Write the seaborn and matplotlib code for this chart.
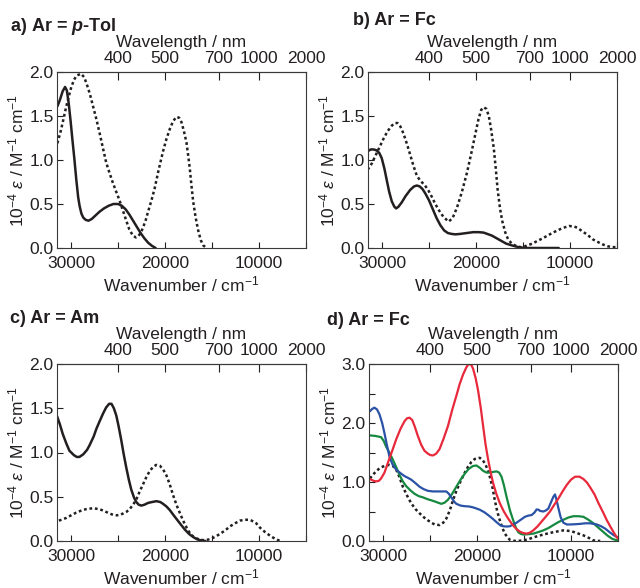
import numpy as np
import matplotlib
matplotlib.use("Agg")
import matplotlib.pyplot as plt
import seaborn as sns
from matplotlib.ticker import FixedLocator, NullLocator, FixedFormatter

# ---- spectra: wavenumber (cm-1) and 10^-4 epsilon (M-1 cm-1) ----
# a) Ar = p-Tol
a_solid_wn = [31460, 31200, 30900, 30640, 30450, 30250, 30050, 29850, 29640, 29450,
              29250, 29100, 28900, 28700, 28450, 28150, 27800, 27400, 27000, 26500,
              26000, 25500, 25000, 24600, 24200, 23800, 23400, 23000, 22600, 22200,
              21800, 21400, 21000]
a_solid_ep = [1.61, 1.68, 1.78, 1.83, 1.79, 1.64, 1.44, 1.22, 1.00, 0.78,
              0.58, 0.48, 0.39, 0.345, 0.32, 0.31, 0.33, 0.37, 0.41, 0.45,
              0.48, 0.50, 0.50, 0.48, 0.44, 0.38, 0.31, 0.24, 0.17, 0.11,
              0.06, 0.025, 0.0]
a_dot_wn = [31459, 31100, 30800, 30534, 30250, 30000, 29700, 29400, 28932, 28600,
            28327, 28000, 27687, 27300, 26975, 26600, 26263, 25900, 25551, 25200,
            24840, 24500, 24128, 23800, 23416, 23100, 22882, 22600, 22348, 22050,
            21814, 21450, 21102, 20700, 20212, 19850, 19501, 19150, 18789, 18500,
            18255, 18000, 17721, 17500, 17365, 17200, 17009, 16750, 16475, 16200,
            15941, 15585]
a_dot_ep = [1.19, 1.33, 1.47, 1.60, 1.72, 1.82, 1.91, 1.96, 1.98, 1.94,
            1.86, 1.75, 1.62, 1.46, 1.31, 1.13, 0.97, 0.85, 0.74, 0.64,
            0.54, 0.43, 0.31, 0.21, 0.14, 0.12, 0.13, 0.17, 0.23, 0.32,
            0.41, 0.54, 0.68, 0.88, 1.10, 1.24, 1.35, 1.44, 1.49, 1.48,
            1.43, 1.33, 1.20, 1.02, 0.90, 0.72, 0.53, 0.35, 0.20, 0.09,
            0.03, 0.0]

# b) Ar = Fc
b_solid_wn = [31530, 31200, 30900, 30600, 30300, 30036, 29750, 29502, 29250, 28968,
              28700, 28505, 28250, 27900, 27500, 27010, 26600, 26300, 26000, 25700,
              25400, 25000, 24600, 24200, 23806, 23400, 23000, 22600, 22200, 21700,
              21000, 20300, 19700, 19200, 18800, 18300, 17800, 17300, 16800, 16200,
              15500, 14800, 13000, 11200]
b_solid_ep = [1.10, 1.12, 1.12, 1.11, 1.08, 1.02, 0.90, 0.77, 0.64, 0.53,
              0.47, 0.45, 0.47, 0.52, 0.59, 0.66, 0.70, 0.71, 0.70, 0.67,
              0.62, 0.54, 0.44, 0.34, 0.26, 0.20, 0.17, 0.16, 0.155, 0.16,
              0.17, 0.18, 0.18, 0.175, 0.16, 0.14, 0.11, 0.08, 0.05, 0.03,
              0.01, 0.0, 0.0, 0.0]
b_dot_wn = [31530, 31100, 30748, 30300, 29858, 29400, 28968, 28650, 28362, 28050,
            27722, 27350, 27010, 26650, 26298, 25900, 25500, 25100, 24700, 24340,
            23900, 23450, 22916, 22500, 22026, 21500, 20958, 20500, 20068, 19750,
            19450, 19178, 18900, 18644, 18400, 18110, 17900, 17700, 17450, 17220,
            16900, 16600, 16200, 15700, 15262, 14900, 14550, 14000, 13482, 12900,
            12414, 11900, 11346, 10700, 10100, 9600, 9210, 8700, 8142, 7600,
            7074, 6500, 6006, 5500, 5000]
b_dot_ep = [0.89, 0.96, 1.04, 1.14, 1.24, 1.33, 1.39, 1.42, 1.42, 1.38,
            1.30, 1.18, 1.06, 0.93, 0.82, 0.76, 0.72, 0.66, 0.58, 0.50,
            0.42, 0.35, 0.30, 0.34, 0.46, 0.64, 0.86, 1.08, 1.30, 1.46,
            1.57, 1.60, 1.58, 1.50, 1.35, 1.13, 0.90, 0.66, 0.45, 0.31,
            0.18, 0.10, 0.05, 0.02, 0.01, 0.015, 0.03, 0.05, 0.08, 0.11,
            0.14, 0.17, 0.20, 0.23, 0.25, 0.245, 0.23, 0.19, 0.15, 0.10,
            0.07, 0.04, 0.02, 0.01, 0.01]

# c) Ar = Am
c_solid_wn = [31495, 31200, 30890, 30500, 30178, 29700, 29400, 29110, 28700, 28300,
              28043, 27600, 27300, 26975, 26600, 26263, 25950, 25700, 25450, 25195,
              24950, 24662, 24400, 24128, 23850, 23594, 23300, 23060, 22800, 22526,
              22200, 21814, 21400, 20924, 20500, 20212, 19850, 19500, 19150, 18789,
              18350, 17899, 17450, 17009, 16600, 16297, 15700]
c_solid_ep = [1.41, 1.32, 1.21, 1.10, 1.02, 0.97, 0.95, 0.95, 0.98, 1.03,
              1.08, 1.18, 1.27, 1.35, 1.44, 1.51, 1.55, 1.55, 1.50, 1.42,
              1.30, 1.14, 0.98, 0.83, 0.69, 0.58, 0.49, 0.44, 0.41, 0.40,
              0.41, 0.43, 0.44, 0.45, 0.44, 0.42, 0.39, 0.35, 0.30, 0.25,
              0.19, 0.13, 0.08, 0.045, 0.02, 0.01, 0.0]
c_dot_wn = [31300, 30900, 30534, 30000, 29466, 28900, 28398, 27687, 26975, 26400,
            25907, 25500, 25195, 24800, 24484, 24100, 23772, 23400, 23060, 22700,
            22348, 22000, 21636, 21250, 20924, 20550, 20212, 19850, 19500, 19150,
            18789, 18400, 18077, 17700, 17365, 17000, 16653, 16300, 15941, 15600,
            15230, 14700, 14162, 13600, 13095, 12550, 12027, 11493, 11100, 10781,
            10300, 9891, 9350, 8823, 8300, 7756]
c_dot_ep = [0.23, 0.245, 0.26, 0.29, 0.32, 0.345, 0.36, 0.37, 0.36, 0.335,
            0.31, 0.295, 0.29, 0.295, 0.31, 0.33, 0.36, 0.41, 0.47, 0.56,
            0.64, 0.72, 0.79, 0.84, 0.86, 0.85, 0.81, 0.74, 0.64, 0.52,
            0.41, 0.31, 0.23, 0.15, 0.09, 0.05, 0.03, 0.015, 0.01, 0.012,
            0.02, 0.045, 0.08, 0.12, 0.165, 0.20, 0.23, 0.24, 0.24, 0.23,
            0.20, 0.15, 0.10, 0.06, 0.025, 0.0]

# d) Ar = Fc, redox series
d_red_wn = [31400, 31000, 30748, 30450, 30214, 29850, 29502, 29050, 28612, 28150,
            27722, 27450, 27188, 26900, 26654, 26300, 25942, 25600, 25230, 24950,
            24696, 24350, 23984, 23550, 23094, 22650, 22204, 21850, 21492, 21150,
            20950, 20780, 20600, 20424, 20150, 19890, 19600, 19356, 19100, 18822,
            18550, 18288, 17950, 17576, 17150, 16686, 16250, 15796, 15400, 15084,
            14728, 14400, 14016, 13550, 13126, 12700, 12236, 11800, 11346, 10900,
            10456, 10000, 9566, 9100, 8676, 8300, 7964, 7500, 7074, 6600,
            6184, 5800, 5472, 5200, 5000]
d_red_ep = [1.05, 1.02, 1.01, 1.02, 1.06, 1.16, 1.32, 1.52, 1.72, 1.90,
            2.03, 2.08, 2.09, 2.05, 1.95, 1.78, 1.63, 1.53, 1.48, 1.455,
            1.45, 1.48, 1.56, 1.74, 1.95, 2.22, 2.46, 2.66, 2.82, 2.94,
            2.99, 3.00, 2.98, 2.92, 2.76, 2.55, 2.25, 1.95, 1.64, 1.38,
            1.16, 0.98, 0.80, 0.64, 0.50, 0.38, 0.28, 0.20, 0.155, 0.135,
            0.125, 0.14, 0.18, 0.25, 0.33, 0.41, 0.50, 0.61, 0.72, 0.84,
            0.95, 1.04, 1.09, 1.09, 1.05, 0.99, 0.91, 0.79, 0.64, 0.49,
            0.35, 0.24, 0.15, 0.08, 0.04]
d_blue_wn = [31400, 31150, 30926, 30650, 30392, 30100, 29858, 29600, 29324, 29000,
             28612, 28150, 27722, 27350, 27010, 26550, 26120, 25700, 25230, 24700,
             24162, 23700, 23272, 23000, 22738, 22450, 22204, 21750, 21314, 20850,
             20424, 20050, 19712, 19250, 18822, 18350, 17932, 17550, 17220, 16850,
             16508, 16150, 15796, 15350, 14906, 14550, 14194, 13900, 13660, 13450,
             13304, 12948, 12650, 12414, 12150, 11880, 11702, 11550, 11346, 11100,
             10812, 10450, 10100, 9500, 9032, 8500, 7964, 7600, 7252, 6800,
             6362, 5900, 5472, 5200, 5000]
d_blue_ep = [2.20, 2.24, 2.26, 2.23, 2.15, 2.00, 1.83, 1.63, 1.43, 1.30,
             1.21, 1.15, 1.10, 1.07, 1.04, 0.98, 0.92, 0.88, 0.85, 0.84,
             0.84, 0.84, 0.84, 0.80, 0.74, 0.67, 0.63, 0.60, 0.59, 0.585,
             0.57, 0.55, 0.53, 0.49, 0.44, 0.38, 0.32, 0.27, 0.25, 0.245,
             0.25, 0.28, 0.31, 0.36, 0.41, 0.43, 0.44, 0.48, 0.535, 0.53,
             0.51, 0.50, 0.52, 0.55, 0.65, 0.75, 0.79, 0.70, 0.56, 0.40,
             0.31, 0.28, 0.28, 0.285, 0.29, 0.30, 0.30, 0.29, 0.28, 0.25,
             0.21, 0.15, 0.10, 0.075, 0.06]
d_green_wn = [31400, 30800, 30214, 29950, 29680, 29300, 28968, 28600, 28256, 27900,
              27544, 27100, 26654, 26200, 25764, 25300, 24874, 24500, 24162, 23806,
              23450, 23094, 22650, 22204, 21750, 21314, 20900, 20450, 20068, 19700,
              19356, 19000, 18644, 18300, 17932, 17650, 17398, 17150, 16864, 16500,
              16152, 15850, 15618, 15350, 15084, 14550, 14016, 13500, 12948, 12400,
              11880, 11350, 10812, 10250, 9744, 9200, 8676, 8150, 7608, 7050,
              6540, 6100, 5650, 5300, 5000]
d_green_ep = [1.79, 1.78, 1.76, 1.70, 1.60, 1.49, 1.38, 1.25, 1.12, 1.01,
              0.93, 0.86, 0.80, 0.76, 0.74, 0.71, 0.69, 0.67, 0.65, 0.63,
              0.65, 0.70, 0.80, 0.92, 1.04, 1.14, 1.22, 1.27, 1.28, 1.24,
              1.19, 1.16, 1.16, 1.17, 1.18, 1.16, 1.09, 0.95, 0.75, 0.52,
              0.35, 0.22, 0.15, 0.12, 0.11, 0.115, 0.125, 0.15, 0.18, 0.22,
              0.27, 0.32, 0.36, 0.40, 0.42, 0.42, 0.41, 0.36, 0.30, 0.22,
              0.15, 0.09, 0.04, 0.02, 0.01]
d_dot_wn = [31400, 31100, 30748, 30400, 30036, 29700, 29324, 28950, 28612, 28250,
            27900, 27450, 27010, 26550, 26120, 25650, 25230, 24850, 24518, 23984,
            23600, 23272, 22900, 22560, 22200, 21848, 21400, 20958, 20600, 20246,
            19712, 19450, 19178, 18900, 18644, 18350, 18110, 17850, 17576, 17300,
            17042, 16750, 16508, 16150, 15796, 15084, 14550, 14016, 13500, 12948,
            12400, 11880, 11350, 10812, 10100, 9650, 9210, 8750, 8320, 7950,
            7608, 6896]
d_dot_ep = [1.06, 1.12, 1.18, 1.23, 1.26, 1.28, 1.29, 1.27, 1.21, 1.08,
            0.92, 0.77, 0.64, 0.54, 0.47, 0.40, 0.35, 0.31, 0.28, 0.27,
            0.31, 0.38, 0.52, 0.69, 0.85, 0.98, 1.13, 1.26, 1.34, 1.39,
            1.41, 1.38, 1.32, 1.22, 1.09, 0.90, 0.69, 0.50, 0.35, 0.22,
            0.125, 0.06, 0.02, 0.005, 0.0, 0.01, 0.03, 0.06, 0.085, 0.11,
            0.13, 0.15, 0.165, 0.18, 0.17, 0.15, 0.125, 0.10, 0.07, 0.04,
            0.01, 0.0]

panel_titles = [r"a) Ar = $\mathbfit{p}$-Tol", "b) Ar = Fc", "c) Ar = Am", "d) Ar = Fc"]
nm_ticks = [400, 500, 700, 1000, 2000]
wn_major = [30000, 20000, 10000]
wn_minor = [25000, 15000, 5000]

INK = "#231f20"
RED, BLUE, GREEN = "#e8293b", "#2a52a6", "#14893f"

sns.set_theme(style="ticks")
plt.rcParams.update({
    "font.family": ["Liberation Sans", "DejaVu Sans"],
    "mathtext.fontset": "custom",
    "mathtext.rm": "Liberation Sans",
    "mathtext.it": "Liberation Sans:italic",
    "mathtext.bf": "Liberation Sans:bold",
    "mathtext.bfit": "Liberation Sans:bold:italic",
    "font.size": 12.5,
    "text.color": INK,
    "axes.labelcolor": INK,
    "xtick.color": INK,
    "ytick.color": INK,
    "axes.edgecolor": "#3a3a3a",
    "axes.linewidth": 0.8,
})

fig = plt.figure(figsize=(6.4, 5.88), dpi=100)
W, H = 640.0, 588.0


def add_axes(l, r, t, b):
    return fig.add_axes([l / W, 1 - b / H, (r - l) / W, (b - t) / H])


ax_a = add_axes(57, 306, 72, 248)
ax_b = add_axes(368, 617, 72, 248)
ax_c = add_axes(57, 306, 364, 541)
ax_d = add_axes(369, 618, 364, 541)


def to_nm(x):
    x = np.asarray(x, dtype=float)
    return 1e7 / np.where(np.abs(x) < 1, 1, x)


def trace(ax, wn, ep, color=INK, lw=1.8, dotted=False):
    kw = dict(color=color, linewidth=lw)
    if dotted:
        kw.update(linestyle=(0, (1.1, 1.1)), dash_capstyle="butt")
    sns.lineplot(x=wn, y=ep, ax=ax, sort=False, estimator=None, **kw)


def frame(ax, ymax, yticks, yminor, ylabels):
    ax.set_xlim(31500, 5000)
    ax.set_ylim(0, ymax)
    ax.xaxis.set_major_locator(FixedLocator(wn_major))
    ax.xaxis.set_minor_locator(FixedLocator(wn_minor))
    ax.xaxis.set_major_formatter(FixedFormatter([str(v) for v in wn_major]))
    ax.yaxis.set_major_locator(FixedLocator(yticks))
    ax.yaxis.set_major_formatter(FixedFormatter(ylabels))
    if yminor:
        ax.yaxis.set_minor_locator(FixedLocator(yminor))
    else:
        ax.yaxis.set_minor_locator(NullLocator())
    ax.tick_params(axis="x", which="both", direction="in", length=4, width=0.8,
                   pad=6, labelsize=12.5)
    ax.tick_params(axis="y", which="both", direction="in", length=4, width=0.8,
                   pad=2.5, labelsize=12.5, right=False)
    ax.set_xlabel(r"Wavenumber / cm$^{-1}$", fontsize=12.5, labelpad=2)
    ax.set_ylabel(r"10$^{-4}$ $\varepsilon$ / M$^{-1}$ cm$^{-1}$", fontsize=12.5,
                  labelpad=2)
    for s in ax.spines.values():
        s.set_visible(True)
    top = ax.secondary_xaxis("top", functions=(to_nm, to_nm))
    top.xaxis.set_major_locator(FixedLocator(nm_ticks))
    top.xaxis.set_minor_locator(NullLocator())
    top.xaxis.set_major_formatter(FixedFormatter([str(v) for v in nm_ticks]))
    top.tick_params(axis="x", direction="in", length=6, width=0.8, pad=4,
                    labelsize=12.5)
    top.set_xlabel("Wavelength / nm", fontsize=12.5, labelpad=3)
    top.spines["top"].set_linewidth(0.8)


# a
trace(ax_a, a_dot_wn, a_dot_ep, dotted=True)
trace(ax_a, a_solid_wn, a_solid_ep)
# b
trace(ax_b, b_dot_wn, b_dot_ep, dotted=True)
trace(ax_b, b_solid_wn, b_solid_ep)
# c
trace(ax_c, c_dot_wn, c_dot_ep, dotted=True)
trace(ax_c, c_solid_wn, c_solid_ep)
# d
trace(ax_d, d_dot_wn, d_dot_ep, dotted=True)
trace(ax_d, d_green_wn, d_green_ep, color=GREEN, lw=1.6)
trace(ax_d, d_blue_wn, d_blue_ep, color=BLUE, lw=1.6)
trace(ax_d, d_red_wn, d_red_ep, color=RED, lw=1.6)

y2 = [0.0, 0.5, 1.0, 1.5, 2.0]
for ax in (ax_a, ax_b, ax_c):
    frame(ax, 2.0, y2, None, ["0.0", "0.5", "1.0", "1.5", "2.0"])
frame(ax_d, 3.0, [0, 1, 2, 3], [0.5, 1.5, 2.5], ["0.0", "1.0", "2.0", "3.0"])

title_pos = [(10, 31), (353, 25), (10, 323), (327, 325)]
for (x, y), t in zip(title_pos, panel_titles):
    fig.text(x / W, 1 - y / H, t, fontsize=13, fontweight="bold", va="baseline",
             ha="left")

fig.savefig("out.png", dpi=100)
